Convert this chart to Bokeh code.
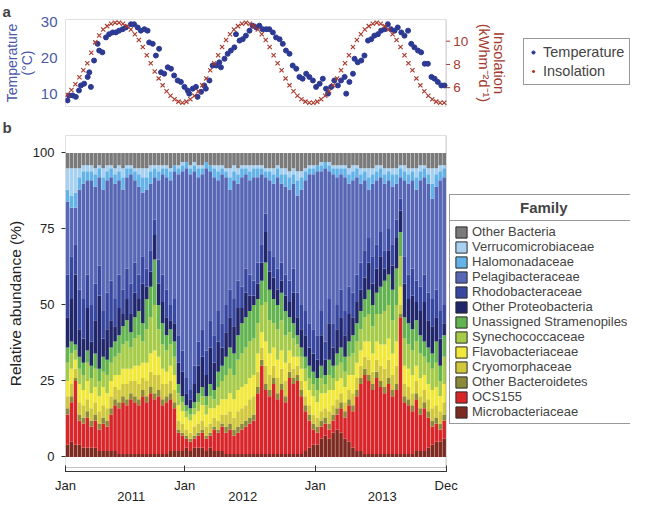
import pandas as pd
from bokeh.plotting import figure
from bokeh.core.properties import value
from bokeh.models import (Range1d, LinearAxis, FixedTicker, Legend, LegendItem,
                          BoxAnnotation, ColumnDataSource)
from bokeh.layouts import column
from bokeh.embed import file_html
from bokeh.resources import INLINE

FONT = "Liberation Sans"

# ---------------- data: panel b (relative abundance, %) ----------------
families = ["Microbacteriaceae", "OCS155", "Other Bacteroidetes", "Cryomorphaceae",
            "Flavobacteriaceae", "Synechococcaceae", "Unassigned Stramenopiles",
            "Other Proteobacteria", "Rhodobacteraceae", "Pelagibacteraceae",
            "Halomonadaceae", "Verrucomicrobiaceae", "Other Bacteria"]
family_colors = ["#7d2b20", "#d9262b", "#8c8a38", "#d0c83a", "#f2e83a", "#a6cb48",
                 "#63b450", "#22276b", "#3848a0", "#5767b5", "#63b3e8", "#a8d0f0",
                 "#7a7a7a"]

microbacteriaceae = [4,5,4,4,3,3,3,3,2,2, 2,2,2,1,1,1,1,1,1,1, 1,1,1,1,1,1,2,2,2,2,
                     3,2,3,3,3,2,3,2,2,2, 1,1,1,1,1,1,1,1,1,1, 1,1,1,1,1,1,1,1,1,1,
                     2,3,4,4,6,7,6,8,9,8, 6,5,3,2,2,1,1,1,1,1, 1,1,1,1,1,1,1,1,2,2,
                     2,3,4,5,5,6]
ocs155 = [10,13,21,8,8,10,7,9,7,9, 8,12,15,15,17,16,18,17,16,19, 17,20,18,19,16,17,17,14,6,5,
          3,3,3,4,5,4,4,7,6,8, 7,8,6,7,8,9,10,11,20,29, 21,19,23,18,21,17,25,23,24,19,
          13,9,5,4,4,4,3,4,5,8, 7,12,12,18,22,26,24,21,25,22, 20,23,19,21,45,17,16,14,17,12,
          14,10,6,6,4,6]
other_bacteroidetes = [2,2,1,2,2,2,2,2,2,2, 2,2,2,2,2,2,2,2,2,2, 2,2,2,2,2,2,2,2,1,1,
                       1,1,1,1,1,1,1,1,1,1, 2,2,2,2,2,2,2,2,2,2, 2,2,2,2,2,2,2,2,2,2,
                       2,2,2,2,2,2,2,2,2,2, 2,2,2,2,2,2,2,2,2,2, 2,2,2,2,1,2,2,2,2,2,
                       2,2,2,2,2,2]
cryomorphaceae = [4,4,3,4,4,4,4,4,4,4, 4,4,4,4,4,5,4,5,5,4, 5,5,6,5,5,4,4,4,3,3,
                  2,2,3,3,3,3,3,3,3,3, 4,4,4,5,5,5,6,6,5,4, 6,5,4,5,5,5,3,3,3,3,
                  3,3,3,3,3,3,4,3,3,3, 3,3,4,4,4,4,5,4,4,5, 6,6,5,6,3,4,4,4,4,4,
                  4,4,4,4,4,4]
flavobacteriaceae = [5,5,3,6,5,6,5,5,5,6, 5,5,4,5,5,5,4,5,6,5, 6,6,8,6,5,4,5,5,5,4,
                     4,4,4,4,5,4,5,3,5,5, 5,6,6,7,7,7,7,7,6,5, 8,7,6,6,6,6,4,4,3,4,
                     5,5,6,5,6,5,7,5,6,5, 5,5,6,5,5,5,6,6,6,7, 8,7,7,8,6,6,6,6,5,6,
                     5,5,6,6,5,6]
synechococcaceae = [6,5,3,5,5,6,5,6,5,5, 6,6,6,7,8,9,7,9,10,7, 11,12,15,9,8,7,7,6,4,3,
                    2,2,2,3,3,3,4,3,6,6, 8,8,8,10,11,12,12,12,10,9, 13,11,8,10,10,9,6,6,4,4,
                    4,4,4,4,5,3,5,4,5,5, 5,6,7,7,7,8,9,9,9,10, 11,11,11,12,10,9,8,8,8,8,
                    6,7,7,8,5,9]
unassigned_stramenopiles = [5,4,2,4,4,4,4,5,4,5, 5,5,5,6,6,7,5,7,8,6, 10,10,15,8,7,5,5,5,3,2,
                            2,2,2,3,3,3,4,3,5,5, 6,7,7,8,10,10,10,11,8,8, 13,10,8,8,9,8,5,5,3,3,
                            4,4,4,4,4,3,5,4,4,5, 5,5,6,6,6,6,8,7,7,9, 10,10,10,12,8,7,7,7,7,6,
                            5,5,5,7,5,7]
other_proteobacteria = [10,14,23,9,8,14,8,11,24,6, 10,9,5,9,4,7,6,8,4,13, 4,5,8,7,7,6,3,6,7,8,
                        4,3,6,9,10,7,12,9,10,6, 8,10,9,9,5,8,5,3,5,6, 10,6,7,5,4,5,5,10,6,6,
                        7,6,6,6,10,5,12,6,8,10, 7,9,6,7,7,7,9,7,8,10, 4,8,8,10,7,11,8,11,6,8,
                        13,9,9,8,9,4]
rhodobacteraceae = [14,14,10,13,13,11,12,12,10,9, 12,13,9,11,8,10,10,10,8,9, 6,7,5,8,9,9,5,8,9,7,
                    5,3,6,8,9,8,9,9,10,8, 9,9,9,9,7,8,7,5,7,6, 6,7,7,7,6,7,7,8,8,8,
                    8,8,8,8,8,6,8,8,8,9, 8,9,8,9,9,9,8,9,8,8, 6,7,7,6,4,9,8,9,7,8,
                    9,9,9,9,9,6]
pelagibacteraceae = [24,16,12,33,38,31,41,32,29,40, 37,34,38,31,33,30,36,27,29,21,
                     26,22,14,26,33,37,41,42,53,59, 69,71,64,54,51,60,49,52,43,49,
                     42,33,39,32,36,31,31,34,28,23, 12,23,24,30,26,29,30,28,32,38,
                     43,49,51,54,46,57,42,49,42,38, 44,34,37,32,26,23,16,24,21,18,
                     22,16,19,12,7,25,30,29,30,35, 32,36,33,34,43,42]
halomonadaceae = [4,4,5,4,4,3,3,4,3,4, 3,3,3,3,4,3,2,3,4,5, 4,4,3,3,2,3,3,2,2,2,
                  2,2,2,3,2,2,2,3,3,2, 2,4,3,3,3,2,3,3,3,2, 2,3,3,3,3,4,4,3,5,4,
                  3,2,2,2,2,2,2,2,3,2, 3,3,3,3,3,3,4,3,3,3, 3,3,4,3,3,3,3,3,4,3,
                  3,3,5,4,3,3]
verrucomicrobiaceae = [7,9,8,3,2,2,2,2,1,3, 2,1,2,2,3,1,1,1,2,3, 3,2,1,2,1,1,1,0,1,1,
                       0,1,1,1,1,0,0,1,2,1, 1,3,2,2,1,1,2,1,1,1, 1,1,2,1,2,2,2,2,3,2,
                       1,1,1,0,1,0,1,1,1,1, 1,2,2,1,2,1,3,2,2,1, 2,1,2,2,1,2,2,1,3,2,
                       1,2,5,2,2,1]
other_bacteria = [5,5,5,5,4,4,4,5,4,5, 4,4,5,4,5,4,4,5,5,5, 5,4,4,4,4,4,5,4,4,3,
                  3,4,3,4,4,3,4,4,4,4, 5,5,4,5,4,4,4,4,4,4, 5,5,5,4,5,5,6,5,6,6,
                  5,4,4,4,3,3,3,4,4,4, 4,5,4,4,5,5,5,5,4,4, 5,5,5,5,4,4,5,5,5,4,
                  4,5,5,5,4,4]

family_values = [microbacteriaceae, ocs155, other_bacteroidetes, cryomorphaceae,
                 flavobacteriaceae, synechococcaceae, unassigned_stramenopiles,
                 other_proteobacteria, rhodobacteraceae, pelagibacteraceae,
                 halomonadaceae, verrucomicrobiaceae, other_bacteria]

sample_index = list(range(96))

month_ticks = [-0.5, 29.6, 62.5, 95.5]
month_labels = ["Jan", "Jan", "Jan", "Dec"]
year_ticks = [16.1, 44.2, 79.4]
year_labels = ["2011", "2012", "2013"]

# ---------------- data: panel a ----------------
insolation = [5.4,5.8,6.3,6.9,7.5,8.1,9.0,9.9,10.5,11.0, 11.3,11.5,11.6,11.6,11.5,11.3,11.0,10.6,10.1,9.5,
              8.8,8.1,7.4,6.8,6.2,5.7,5.3,5.0,4.8,4.7, 4.8,5.0,5.3,5.7,6.2,6.8,7.5,8.1,8.8,9.5,
              10.1,10.6,11.0,11.3,11.5,11.6,11.5,11.3,11.0,10.6, 10.1,9.5,8.8,8.1,7.5,6.8,6.2,5.7,5.3,5.0,
              4.8,4.7,4.7,4.8,5.0,5.3,5.7,6.2,6.8,7.5, 8.1,8.8,9.5,10.1,10.6,11.0,11.3,11.5,11.6,11.5,
              11.3,11.0,10.6,10.1,9.5,8.8,8.1,7.5,6.8,6.2, 5.7,5.3,5.0,4.8,4.7,4.7]

temp_x = [0.0,0.4,1.3,2.1,2.9,3.4,4.2,5.1,5.5,5.9, 6.7,7.6,8.0,8.8,9.7,10.5,11.4,12.2,13.0,13.9,
          14.7,16.0,16.8,17.7,18.5,19.4,20.2,20.6,21.5,22.3, 23.1,23.6,24.4,25.3,26.1,26.9,27.8,28.6,29.5,30.3,
          30.7,31.6,32.4,32.8,33.7,34.5,34.9,35.8,36.6,37.5, 38.3,38.7,39.6,40.4,41.2,42.1,42.5,43.4,44.2,45.0,
          45.9,46.7,47.6,48.4,49.2,50.1,50.9,51.8,52.6,53.5, 54.3,55.1,56.0,56.8,57.7,58.5,59.3,60.2,61.0,61.9,
          62.7,63.6,64.4,65.2,65.7,66.5,67.3,68.2,69.0,69.9, 70.3,71.1,72.0,72.4,73.2,74.1,74.9,75.8,76.6,77.4,
          78.3,79.1,80.0,80.8,81.6,82.5,83.3,84.2,85.0,85.9, 86.7,87.5,88.4,89.2,90.1,90.9,91.8,92.6,93.4,94.3,
          95.1]
temp_c = [8.1,9.5,9.5,9.1,10.9,12.3,12.8,14.7,16.0,11.9, 19.3,24.0,22.1,21.6,25.8,26.7,27.2,27.2,27.7,28.1,
          28.6,29.5,29.5,28.6,27.7,28.1,27.7,24.4,24.0,20.7, 22.6,16.0,15.6,17.4,17.0,15.1,13.7,13.3,11.9,10.9,
          10.0,11.4,11.9,9.1,10.5,12.3,11.4,13.7,17.9,17.9, 18.8,17.4,19.8,21.2,22.1,23.0,26.7,24.9,25.3,26.3,
          27.7,29.1,28.6,29.1,28.1,28.1,28.1,27.2,25.8,25.3, 24.0,22.1,21.2,17.9,17.0,14.7,14.2,15.6,14.7,13.7,
          11.9,12.8,14.2,11.4,10.0,11.9,13.7,12.3,13.7,14.7, 10.0,13.3,15.6,19.8,18.8,19.3,20.7,24.9,25.3,26.3,
          26.7,27.7,28.1,29.5,28.1,27.7,28.6,27.2,26.3,27.7, 24.0,23.0,22.1,21.6,18.4,18.4,14.7,14.2,13.3,12.3,
          12.3]
temp_ticks = [10, 20, 30]
ins_ticks = [6, 8, 10]

TEMP_COLOR = "#2d3a94"
TEMP_LABEL_COLOR = "#4a58a6"
INS_COLOR = "#a8392c"
INS_LABEL_COLOR = "#a33b30"
FRAME = "#333333"

H_A = 116
H_B = 387
LEFT = 63
X_END = sample_index[-1] + 0.5          # right edge of the data box
shared_x = Range1d(-0.5, 142.0)         # frames run to the right edge; data sit left
KEY_ONLY = {"key": Range1d(1000, 1001)}  # range for renderers that only feed the keys


def panel_letter(p, letter):
    p.title.text = letter
    p.title.text_font = FONT
    p.title.text_font_size = "15px"
    p.title.text_font_style = "bold"
    p.title.align = "left"
    p.title.offset = -LEFT
    p.title.standoff = 0


# ---------------- panel a ----------------
pa = figure(width=630, height=H_A, x_range=shared_x, y_range=Range1d(6.39, 30.83),
            output_backend="svg", toolbar_location=None, x_axis_location=None,
            min_border_left=LEFT, min_border_right=0, min_border_top=18, min_border_bottom=10)
panel_letter(pa, "a")
pa.extra_y_ranges = {"ins": Range1d(4.38, 11.87), **KEY_ONLY}
pa.grid.visible = False
pa.outline_line_color = None
pa.add_layout(BoxAnnotation(right=X_END, fill_alpha=0, line_color=FRAME, line_width=1))

r_temp = pa.scatter(temp_x, temp_c, marker="circle", size=5, fill_color=TEMP_COLOR,
                    line_color=TEMP_COLOR)
pa.scatter(sample_index, insolation, marker="x", size=6, line_color=INS_COLOR,
           line_width=1.1, y_range_name="ins")
r_ins_key = pa.scatter(sample_index, insolation, marker="cross", size=9, line_color=INS_COLOR,
                       line_width=1.6, y_range_name="key")

ya = pa.left[0]
ya.ticker = FixedTicker(ticks=temp_ticks)
ya.axis_line_color = None
ya.major_tick_line_color = None
ya.minor_tick_line_color = None
ya.major_tick_out = 0
ya.major_tick_in = 0
ya.major_label_standoff = 8
ya.major_label_text_font = FONT
ya.major_label_text_font_size = "15px"
ya.major_label_text_color = TEMP_LABEL_COLOR
ya.axis_label = "Temperature\n(°C)"
ya.axis_label_text_font = FONT
ya.axis_label_text_font_size = "14px"
ya.axis_label_text_font_style = "normal"
ya.axis_label_text_color = TEMP_LABEL_COLOR
ya.axis_label_text_line_height = 0.95
ya.axis_label_standoff = 3

# insolation scale drawn at the right edge of the data box
n_it = len(ins_ticks)
pa.ray(x=[X_END] * n_it, y=ins_ticks, length=4, length_units="screen", angle=0,
       line_color=INS_LABEL_COLOR, line_width=1, y_range_name="ins")
pa.text(x=[X_END] * n_it, y=ins_ticks, text=[str(t) for t in ins_ticks], x_offset=7,
        text_align="left", text_baseline="middle", text_font=value(FONT),
        text_font_size="13.5px", text_color=INS_LABEL_COLOR, y_range_name="ins")
pa.text(x=[X_END], y=[8.13], text=["Insolation\n(kWhm⁻²d⁻¹)"], angle=-1.5708, x_offset=45,
        text_align="center", text_baseline="middle", text_font=value(FONT),
        text_font_size="14.5px", text_color=INS_LABEL_COLOR, text_line_height=0.95,
        y_range_name="ins")

leg_a = Legend(items=[LegendItem(label="Temperature", renderers=[r_temp]),
                      LegendItem(label="Insolation", renderers=[r_ins_key])],
               location=(458, 21), orientation="vertical", margin=0, padding=5,
               spacing=3, glyph_width=8, glyph_height=14, label_height=14,
               label_standoff=6, label_text_font=FONT, label_text_font_size="14.5px",
               border_line_color=FRAME, border_line_width=1,
               background_fill_color="white", background_fill_alpha=1)
pa.add_layout(leg_a)

# ---------------- panel b ----------------
pb = figure(width=630, height=H_B, x_range=shared_x, y_range=Range1d(-4.78, 105.75),
            output_backend="svg", toolbar_location=None,
            min_border_left=LEFT, min_border_right=0, min_border_top=17, min_border_bottom=30)
panel_letter(pb, "b")
pb.extra_y_ranges = dict(KEY_ONLY)
pb.grid.visible = False
pb.outline_line_color = None

df = pd.DataFrame({name: vals for name, vals in zip(families, family_values)})
df = df.div(df.sum(axis=1), axis=0) * 100.0
df["x"] = sample_index
source = ColumnDataSource(df)

pb.vbar_stack(families, x="x", width=0.9, fill_color=family_colors, line_color=None,
              source=source)

pb.add_layout(BoxAnnotation(bottom=-3.48, right=X_END, fill_alpha=0, line_color=FRAME,
                            line_width=1))

yb = pb.left[0]
yb.ticker = FixedTicker(ticks=[0, 25, 50, 75, 100])
yb.axis_line_color = None
yb.minor_tick_line_color = None
yb.major_tick_line_color = FRAME
yb.major_tick_out = 4
yb.major_tick_in = 0
yb.major_label_standoff = 7
yb.major_label_text_font = FONT
yb.major_label_text_font_size = "13px"
yb.major_label_text_color = "#222222"
yb.axis_label = "Relative abundance (%)"
yb.axis_label_text_font = FONT
yb.axis_label_text_font_size = "15.5px"
yb.axis_label_text_font_style = "normal"
yb.axis_label_text_color = "#222222"
yb.axis_label_standoff = 6

xb = pb.below[0]
xb.ticker = FixedTicker(ticks=month_ticks)
xb.bounds = (month_ticks[0], month_ticks[-1])
xb.major_label_overrides = {t: s for t, s in zip(month_ticks, month_labels)}
xb.axis_line_color = FRAME
xb.major_tick_line_color = FRAME
xb.minor_tick_line_color = None
xb.major_tick_in = 6
xb.major_tick_out = 0
xb.major_label_standoff = 6
xb.major_label_text_font = FONT
xb.major_label_text_font_size = "13px"
xb.major_label_text_color = "#222222"

xy = LinearAxis(ticker=FixedTicker(ticks=year_ticks))
xy.major_label_overrides = {t: s for t, s in zip(year_ticks, year_labels)}
xy.axis_line_color = None
xy.major_tick_line_color = None
xy.minor_tick_line_color = None
xy.major_tick_in = 0
xy.major_tick_out = 0
xy.major_label_standoff = -4
xy.major_label_text_font = FONT
xy.major_label_text_font_size = "13px"
xy.major_label_text_color = "#222222"
pb.add_layout(xy, "below")

# key swatches (outlined like the original key); these bars map outside the frame
swatch = {}
for name, col in zip(families, family_colors):
    swatch[name] = pb.vbar(x="x", top=name, width=0.9, source=source, fill_color=col,
                           line_color="#2a2a2a", line_width=1, y_range_name="key")
items = [LegendItem(label=name, renderers=[swatch[name]]) for name in families[::-1]]
leg_b = Legend(items=items, location=(384, 47), orientation="vertical", margin=0,
               padding=4, spacing=0, glyph_width=14, glyph_height=14, label_height=14,
               label_width=159, label_standoff=4, label_text_font=FONT,
               label_text_font_size="13px", border_line_color=FRAME, border_line_width=1,
               background_fill_color="white", background_fill_alpha=1)
pb.add_layout(leg_b)

hdr = pb.quad(left=[], right=[], top=[], bottom=[], fill_alpha=0, line_alpha=0)
leg_h = Legend(items=[LegendItem(label="Family", renderers=[hdr])], location=(384, 250),
               orientation="vertical", margin=0, padding=4, spacing=0, glyph_width=66,
               glyph_height=14, label_height=16, label_width=115, label_standoff=0,
               label_text_font=FONT, label_text_font_size="15px",
               label_text_font_style="bold", border_line_color=FRAME, border_line_width=1,
               background_fill_color="white", background_fill_alpha=1)
pb.add_layout(leg_h)

layout = column(pa, pb, spacing=0)
open("out.html", "w").write(file_html(layout, INLINE, title="Temperature, insolation and bacterial families"))
